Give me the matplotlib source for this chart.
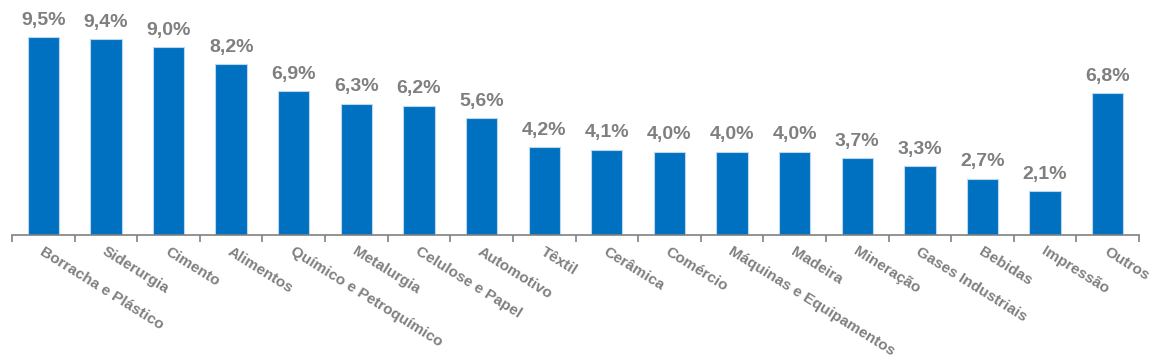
import matplotlib
matplotlib.use("Agg")
import matplotlib.pyplot as plt
import numpy as np

categories = ["Borracha e Plástico", "Siderurgia", "Cimento", "Alimentos",
              "Químico e Petroquímico", "Metalurgia", "Celulose e Papel",
              "Automotivo", "Têxtil", "Cerâmica", "Comércio",
              "Máquinas e Equipamentos", "Madeira", "Mineração",
              "Gases Industriais", "Bebidas", "Impressão", "Outros"]
values = [9.5, 9.4, 9.0, 8.2, 6.9, 6.3, 6.2, 5.6, 4.2, 4.1, 4.0, 4.0, 4.0,
          3.7, 3.3, 2.7, 2.1, 6.8]
value_labels = ["9,5%", "9,4%", "9,0%", "8,2%", "6,9%", "6,3%", "6,2%", "5,6%",
                "4,2%", "4,1%", "4,0%", "4,0%", "4,0%", "3,7%", "3,3%", "2,7%",
                "2,1%", "6,8%"]

plt.rcParams['font.family'] = ['Liberation Sans', 'DejaVu Sans']
W, H = 1161, 360
fig = plt.figure(figsize=(W/100, H/100), dpi=100)
ax = fig.add_axes([12/W, (H-235)/H, (1139-12)/W, 215/H])

x = np.arange(len(categories))
bar_color = "#0070C0"
gray = "#7F7F7F"
ax.bar(x, values, width=0.5, color=bar_color, edgecolor="#BDD7EE", linewidth=0.8, zorder=2)
ax.set_xlim(-0.5, len(categories)-0.5)
ax.set_ylim(0, 215/20.84)

for xi, v, lab in zip(x, values, value_labels):
    ax.annotate(lab, (xi, v), xytext=(0, 6), textcoords="offset points",
                ha="center", va="bottom", fontsize=14, fontweight="bold", color=gray)

for s in ["top", "right", "left"]:
    ax.spines[s].set_visible(False)
ax.spines["bottom"].set_color("#808080")
ax.spines["bottom"].set_linewidth(1.2)
ax.set_yticks([])
ax.set_xticks(np.arange(len(categories)+1) - 0.5, minor=False)
ax.set_xticklabels([])
ax.tick_params(axis="x", which="major", length=5, color="#808080", width=1.2)

for xi, c in zip(x, categories):
    ax.text(xi + 0.02, -0.45, c, rotation=-32, rotation_mode="anchor",
            ha="left", va="top", fontsize=11, fontweight="bold", color=gray)

fig.savefig("out.png", dpi=100)
